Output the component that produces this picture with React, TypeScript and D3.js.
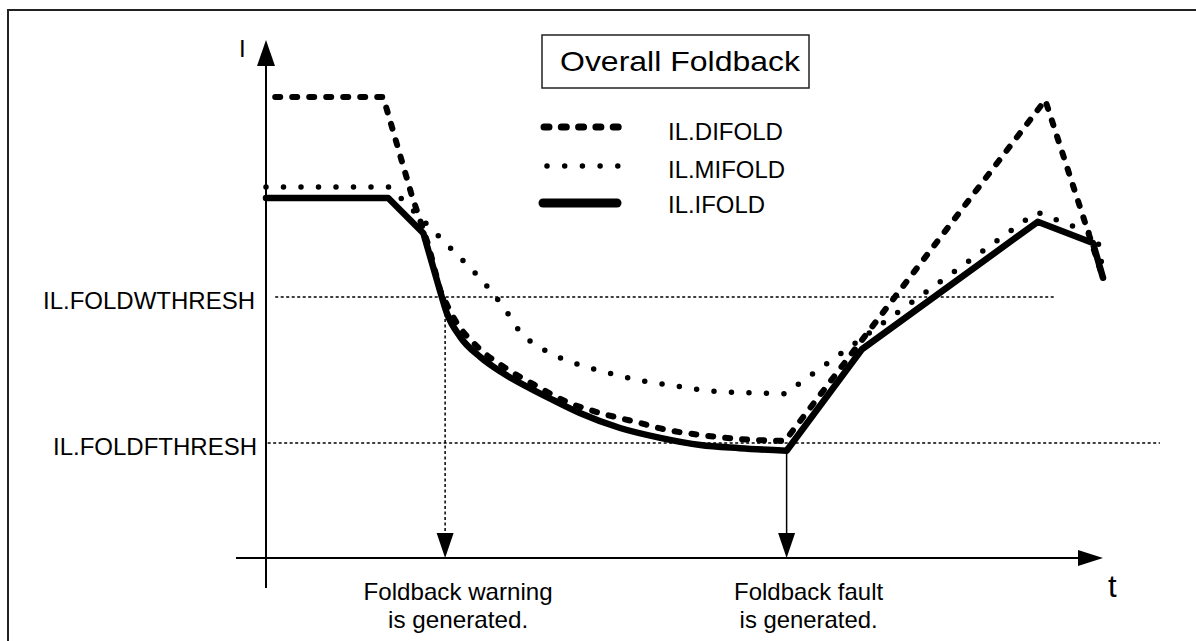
import React from "react";
import * as d3 from "d3";

const W = 1196;
const H = 641;

// time / current in arbitrary units (0..100 on each axis)
// IL.DIFOLD (dashed)
const difoldLead: [number, number][] = [[1.1, 89.0], [14.0, 89.0], [17.4, 70.1], [19.4, 60.4], [20.8, 51.7]];
const difoldCurve: [number, number][] = [
  [20.8, 51.7], [22.6, 45.9], [25.3, 40.7], [28.6, 36.7], [32.1, 33.4], [36.0, 30.1],
  [39.9, 28.0], [44.1, 26.3], [48.0, 24.7], [52.2, 23.7], [56.3, 23.0], [62.0, 22.6],
];
const difoldTail: [number, number][] = [[62.0, 22.6], [93.1, 88.4], [100, 54.1]];

// IL.MIFOLD (dotted)
const mifoldLead: [number, number][] = [[0, 71.6], [14.8, 71.6], [24.4, 56.0]];
const mifoldCurve: [number, number][] = [
  [24.4, 56.0], [26.8, 51.7], [28.6, 47.9], [30.3, 43.8], [33.1, 40.3], [36.9, 37.6],
  [41.0, 35.7], [45.0, 34.2], [49.1, 33.2], [53.3, 32.2], [57.5, 31.9], [62.0, 31.7],
];
const mifoldTail: [number, number][] = [[62.0, 31.7], [92.1, 66.8], [99.3, 62.2], [100, 55.2]];

// IL.IFOLD (solid)
const ifoldLead: [number, number][] = [[0, 69.5], [14.6, 69.5], [18.8, 62.7], [21.0, 50.4]];
const ifoldCurve: [number, number][] = [
  [21.0, 50.4], [21.6, 47.3], [23.2, 42.7], [25.6, 38.8], [28.3, 35.7], [31.5, 32.8],
  [34.3, 30.5], [37.5, 28.0], [42.3, 25.1], [47.1, 23.2], [51.9, 21.8], [56.6, 21.2], [62.2, 20.7],
];
const ifoldTail: [number, number][] = [[62.2, 20.7], [71.2, 40.3], [92.2, 64.9], [98.8, 60.8], [100, 54.1]];

const legendNames = ["IL.DIFOLD", "IL.MIFOLD", "IL.IFOLD"];
const thresholdNames = ["IL.FOLDWTHRESH", "IL.FOLDFTHRESH"];
const thresholdValues = [50.4, 22.2];
const thresholdSpans: [number, number][] = [[1.1, 94.3], [0.2, 106.8]];
const eventTimes = [21.4, 62.2];
const eventLabels = [["Foldback warning", "is generated."], ["Foldback fault", "is generated."]];

const FONT = "'Liberation Sans', Arial, sans-serif";

export default function App() {
  const x = d3.scaleLinear().domain([0, 100]).range([266, 1103]);
  const y = d3.scaleLinear().domain([0, 100]).range([558, 40]);

  const lin = d3.line<[number, number]>().x(d => x(d[0])).y(d => y(d[1]));
  const smooth = d3.line<[number, number]>().x(d => x(d[0])).y(d => y(d[1])).curve(d3.curveMonotoneX);
  const seriesPath = (a: [number, number][], b: [number, number][], c: [number, number][]) =>
    (lin(a) || "") + (smooth(b) || "").replace(/^M/, "L") + (lin(c) || "").replace(/^M/, "L");

  const x0 = x(0), yTop = y(100), xEnd = x(100), yBase = y(0);
  const thin = { stroke: "#000", strokeWidth: 1.5, strokeDasharray: "3 2.5", fill: "none" };

  return (
    <svg width={W} height={H} style={{ position: "absolute", left: 0, top: 0, background: "#fff" }}>
      <rect x={8} y={10} width={1300} height={800} fill="#fff" stroke="#222" strokeWidth={2} />

      {/* axes */}
      <line x1={x0} y1={yTop + 24} x2={x0} y2={yBase + 30} stroke="#000" strokeWidth={2} />
      <path d={`M${x0},${yTop} L${x0 - 9},${yTop + 26} L${x0 + 9},${yTop + 26} Z`} fill="#000" />
      <line x1={x0 - 30} y1={yBase} x2={xEnd - 23} y2={yBase} stroke="#000" strokeWidth={2} />
      <path d={`M${xEnd},${yBase} L${xEnd - 25},${yBase - 8} L${xEnd - 25},${yBase + 8} Z`} fill="#000" />
      <text x={x0 - 27} y={57} fontFamily={FONT} fontSize={24}>I</text>
      <text x={xEnd + 5} y={597} fontFamily={FONT} fontSize={31}>t</text>

      {/* thresholds */}
      {thresholdValues.map((v, i) => (
        <g key={thresholdNames[i]}>
          <line x1={x(thresholdSpans[i][0])} x2={x(thresholdSpans[i][1])} y1={y(v)} y2={y(v)} {...thin} />
          <text x={i === 0 ? 255 : 257} y={y(v) + 12} textAnchor="end" fontFamily={FONT}
            fontSize={24} textLength={i === 0 ? 212 : 204} lengthAdjust="spacingAndGlyphs">
            {thresholdNames[i]}
          </text>
        </g>
      ))}

      {/* event markers */}
      <line x1={x(eventTimes[0])} x2={x(eventTimes[0])} y1={y(thresholdValues[0])} y2={yBase - 25} {...thin} />
      <line x1={x(eventTimes[1])} x2={x(eventTimes[1])} y1={y(20.7)} y2={yBase - 25} stroke="#000" strokeWidth={1.5} />
      {eventTimes.map((t, i) => (
        <g key={"ev" + i}>
          <path d={`M${x(t)},${yBase} L${x(t) - 8.5},${yBase - 25} L${x(t) + 8.5},${yBase - 25} Z`} fill="#000" />
          <text x={x(t) + (i === 0 ? 13 : 22)} y={600} textAnchor="middle" fontFamily={FONT} fontSize={24}
            textLength={i === 0 ? 189 : 149} lengthAdjust="spacingAndGlyphs">{eventLabels[i][0]}</text>
          <text x={x(t) + (i === 0 ? 13 : 22)} y={628} textAnchor="middle" fontFamily={FONT} fontSize={24}
            textLength={i === 0 ? 140 : 138} lengthAdjust="spacingAndGlyphs">{eventLabels[i][1]}</text>
        </g>
      ))}

      {/* curves */}
      <path d={seriesPath(mifoldLead, mifoldCurve, mifoldTail)} fill="none" stroke="#000" strokeWidth={5.5}
        strokeDasharray="0 17.5" strokeLinecap="round" strokeLinejoin="round" />
      <path d={seriesPath(ifoldLead, ifoldCurve, ifoldTail)} fill="none" stroke="#000" strokeWidth={6.5}
        strokeLinecap="round" strokeLinejoin="round" />
      <path d={seriesPath(difoldLead, difoldCurve, difoldTail)} fill="none" stroke="#000" strokeWidth={6}
        strokeDasharray="5 12" strokeLinecap="round" strokeLinejoin="round" />

      {/* title */}
      <rect x={542} y={35} width={267} height={53} fill="#fff" stroke="#222" strokeWidth={1.5} />
      <text x={560} y={71} fontFamily={FONT} fontSize={27.5} textLength={240} lengthAdjust="spacingAndGlyphs">
        Overall Foldback
      </text>

      {/* legend */}
      <line x1={544} x2={620} y1={127} y2={127} stroke="#000" strokeWidth={7} strokeDasharray="5 12.3" strokeLinecap="round" />
      <line x1={547} x2={619} y1={166} y2={166} stroke="#000" strokeWidth={5.5} strokeDasharray="0 17.7" strokeLinecap="round" />
      <line x1={543} x2={617} y1={203} y2={203} stroke="#000" strokeWidth={9} strokeLinecap="round" />
      {legendNames.map((n, i) => (
        <text key={n} x={668} y={[140, 178, 213][i]} fontFamily={FONT} fontSize={24}
          textLength={[115, 117, 97][i]} lengthAdjust="spacingAndGlyphs">{n}</text>
      ))}
    </svg>
  );
}
